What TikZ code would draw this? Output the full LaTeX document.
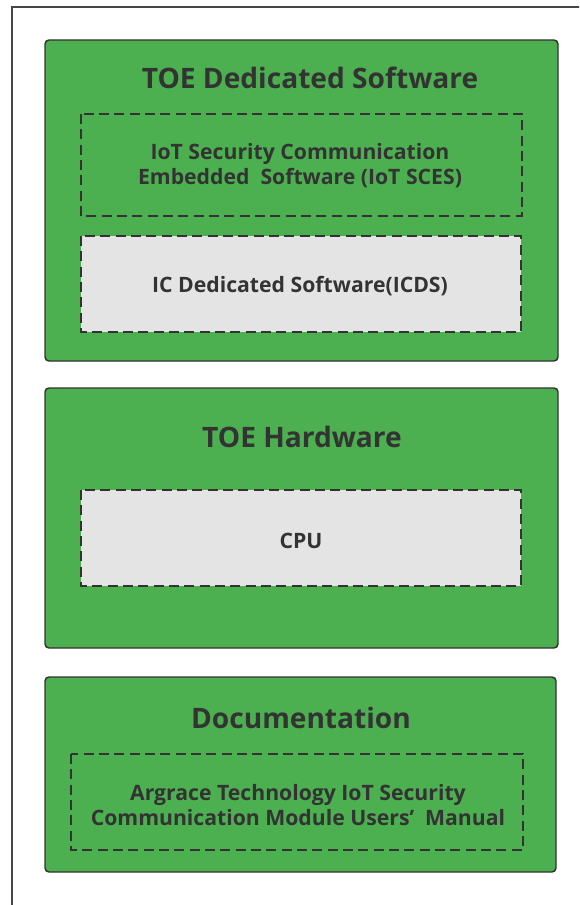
\documentclass[tikz,border=0pt]{standalone}
\usepackage{fontspec}
\setmainfont{Open Sans}
\definecolor{toegreen}{HTML}{4CAF50}
\definecolor{boxgray}{HTML}{E4E4E4}
\definecolor{inkgray}{HTML}{333333}
\tikzset{
  partbox/.style={draw=inkgray, line width=1.1pt, fill=toegreen, rounded corners=3pt},
  subbox/.style={draw=inkgray, line width=1.5pt, dash pattern=on 7.5pt off 4pt},
  parttitle/.style={text=inkgray, font=\fontsize{21.1}{25}\selectfont\bfseries},
  subtext/.style={text=inkgray, align=center, font=\fontsize{15.9}{18.75}\selectfont\bfseries}
}
\begin{document}
\begin{tikzpicture}[x=0.75pt, y=-0.75pt]
  \useasboundingbox (0,0) rectangle (579,905);
  \clip (0,0) rectangle (579,905);
  \draw[draw=inkgray!90, line width=1.4pt] (12,7) rectangle (600,930);

  % software
  \draw[partbox] (45,40) rectangle (558,361);
  \node[parttitle] (swtitle) at (310,78) {TOE Dedicated Software};
  \draw[subbox] (81,114) rectangle (522,216);
  \node[subtext] (sces) at (300,166) {IoT Security Communication\\Embedded\ \ Software (IoT SCES)};
  \draw[subbox, fill=boxgray] (81,236) rectangle (521,332);
  \node[subtext] (icds) at (300,286) {IC Dedicated Software(ICDS)};

  % hardware
  \draw[partbox] (45,388) rectangle (558,648);
  \node[parttitle] (hwtitle) at (302,437) {TOE Hardware};
  \draw[subbox, fill=boxgray] (81,490) rectangle (521,586);
  \node[subtext] (cpu) at (301,541) {CPU};

  % documentation
  \draw[partbox] (45,677) rectangle (556,872);
  \node[parttitle] (doctitle) at (301,718) {Documentation};
  \draw[subbox] (71,754) rectangle (523,850);
  \node[subtext] (manual) at (298,805) {Argrace Technology IoT Security\\Communication Module Users’\ \ Manual};
\end{tikzpicture}
\end{document}
